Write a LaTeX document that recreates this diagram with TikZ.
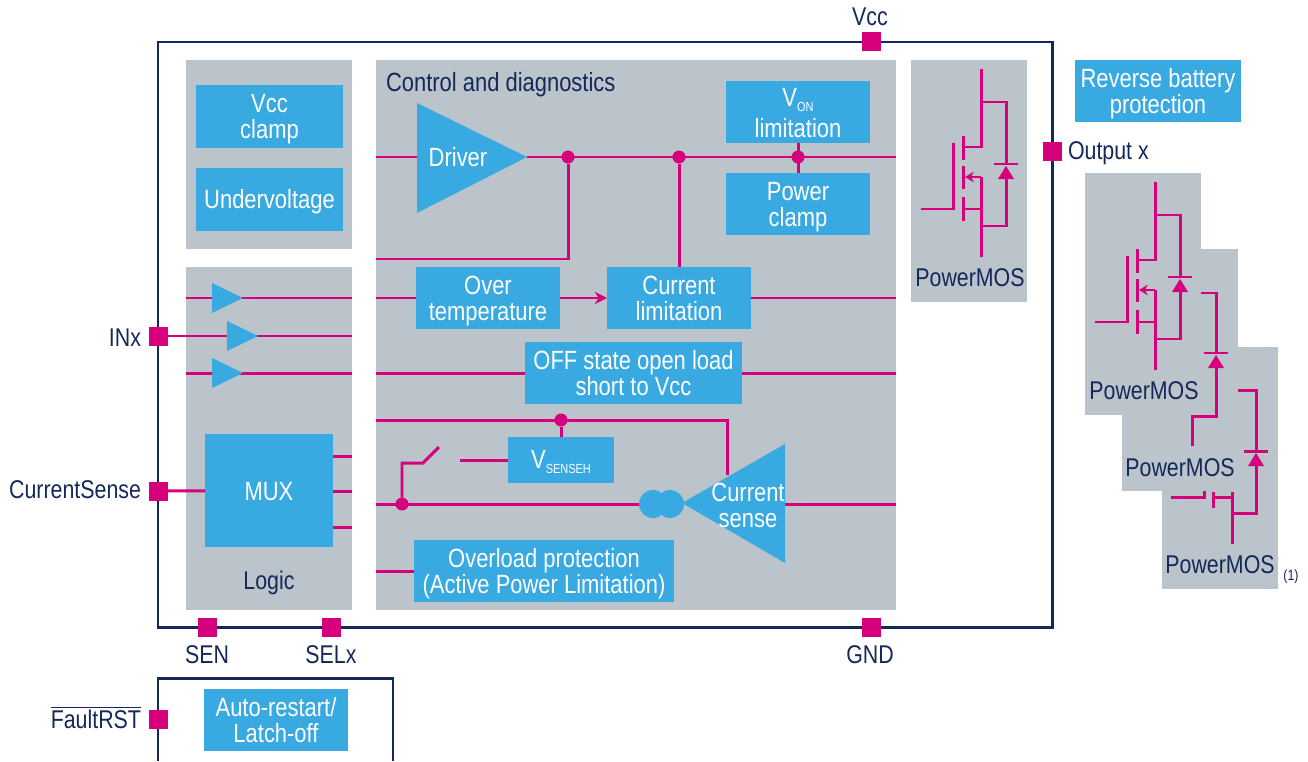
\documentclass[tikz,border=0pt]{standalone}
\usepackage{fontspec}
\setmainfont{Liberation Sans}[FakeStretch=0.833]
\usepackage{xcolor}
\usetikzlibrary{arrows.meta,positioning}

\definecolor{panelgray}{HTML}{BAC4CA}
\definecolor{blockblue}{HTML}{38A9E1}
\definecolor{wirepink}{HTML}{D6007D}
\definecolor{framenavy}{HTML}{14285A}
\def\px{0.02cm}
\newcommand{\lowtxt}[1]{\raisebox{-3pt}{\fontsize{7.5}{8}\selectfont #1}}

\begin{document}
\begin{tikzpicture}[
  x=0.02cm,y=-0.02cm,
  every node/.style={inner sep=0pt,outer sep=0pt,align=center,font=\fontsize{15}{14.8}\selectfont},
  txt/.style={execute at begin node={\rule{0pt}{13pt}},execute at end node={\rule[-2pt]{0pt}{2pt}}},
  two/.style={execute at begin node={\rule{0pt}{#1pt}},execute at end node={\rule[-3.2pt]{0pt}{3.2pt}}},
  two/.default=28.6,
  panel/.style 2 args={fill=panelgray,minimum width=#1*\px,minimum height=#2*\px},
  blk/.style 2 args={txt,fill=blockblue,text=white,minimum width=#1*\px,minimum height=#2*\px},
  pad/.style={fill=wirepink,minimum size=19*\px},
  dot/.style={circle,fill=wirepink,minimum size=13*\px},
  lbl/.style={txt,text=framenavy,font=\fontsize{14.6}{14.8}\selectfont},
  wire/.style={draw=wirepink,line width=1.7pt},
  arr/.style={wire,-{Stealth[length=7pt,width=7pt]}},
  frm/.style={draw=framenavy,line width=1.7pt},
  tri/.style={fill=blockblue},
  diode/.pic={
    \draw[wire] (-12,0) -- (12,0);
    \fill[wirepink] (-8,15) -- (8,15) -- (0,2) -- cycle;
  },
  mosfet/.pic={
    \draw[wire] (70,9) -- (70,87) -- (53,87);
    \draw[wire] (70,42) -- (95,42) -- (95,104);
    \draw[wire] (95,119) -- (95,166) -- (70,166);
    \draw[wire] (70,197) -- (70,117);
    \draw[wire,-{Stealth[length=5pt,width=6pt]}] (70,117) -- (54,117);
    \draw[wire] (53,149) -- (70,149);
    \draw[wire] (52,76) -- (52,100);
    \draw[wire] (52,106) -- (52,129);
    \draw[wire] (52,137) -- (52,161);
    \draw[wire] (42,83) -- (42,149) -- (10,149);
    \pic at (95,104) {diode};
  }
]
\useasboundingbox (0,0) rectangle (1308,761);

% panels
\node[panel={166}{189}] (clamps) at (269,154.5) {};
\node[panel={166}{343}] (logic) at (269,438.5) {};
\node[panel={520}{550}] (ctrl) at (636,335) {};
\node[panel={116}{242}] (pmos) at (969,181) {};
\node[panel={116}{242}] (pmosa) at (1143,294) {};
\node[panel={116}{242}] (pmosb) at (1180,370) {};
\node[panel={116}{242}] (pmosc) at (1220,468) {};

% frames
\draw[frm] (158,42) rectangle (1052,627);
\draw[frm] (158,761) -- (158,678) -- (393,678) -- (393,761);

% blocks
\node[blk={147}{63},two] (vccclamp) at (269.5,116.5) {Vcc\\clamp};
\node[blk={147}{63}] (uvlo) at (269.5,199.5) {Undervoltage};
\node[blk={144}{62},two=32] (von) at (798,112) {V\lowtxt{ON}\\[2.8pt]limitation};
\node[blk={144}{62},two] (pclamp) at (798,204) {Power\\clamp};
\node[blk={166}{62},two] (revbat) at (1158,91) {Reverse battery\\protection};
\node[blk={144}{62},two] (otemp) at (488,298) {Over\\temperature};
\node[blk={144}{62},two] (climit) at (679,298) {Current\\limitation};
\node[blk={217}{62},two] (offstate) at (633.5,373) {OFF state open load\\short to Vcc};
\node[blk={106}{46}] (vsense) at (561,460) {V\lowtxt{SENSEH}};
\node[blk={260}{62},two] (overload) at (544,571) {Overload protection\\(Active Power Limitation)};
\node[blk={128}{113}] (mux) at (269,490.5) {MUX};
\node[blk={144}{62},two] (autors) at (276,720) {Auto-restart/\\Latch-off};

% pads
\node[pad] (vcc) at (871,41) {};
\node[pad] (outx) at (1052,151) {};
\node[pad] (inx) at (158,336) {};
\node[pad] (csense) at (158,491) {};
\node[pad] (sen) at (207,627) {};
\node[pad] (selx) at (331,627) {};
\node[pad] (gnd) at (871,627) {};
\node[pad] (fault) at (158,719) {};

\node[lbl] (vcclbl) at (870,16) {Vcc};
\node[lbl,anchor=west] (outlbl) at (1068,151) {Output x};
\node[lbl,anchor=east] (inlbl) at (141,337) {INx};
\node[lbl,anchor=east] (cslbl) at (141,489) {CurrentSense};
\node[lbl] (senlbl) at (207,654) {SEN};
\node[lbl] (sellbl) at (331,654) {SELx};
\node[lbl] (gndlbl) at (870,654) {GND};
\node[lbl,anchor=east] (faultlbl) at (141,719) {$\overline{\mbox{FaultRST}}$};

% junctions and free wire ends
\coordinate (logicw) at (186,298);
\coordinate (logice) at (352,298);
\coordinate (logicy) at (186,373);
\coordinate (logicz) at (352,373);
\coordinate (logicm) at (352,336);
\coordinate (ctrlw) at (376,298);
\coordinate (ctrle) at (896,298);
\coordinate (offw) at (376,373);
\coordinate (offe) at (896,373);
\coordinate (drvin) at (376,157);
\coordinate (drvw) at (417,157);
\coordinate (drve) at (527,157);
\coordinate (drvout) at (896,157);
\coordinate (otfb) at (376,259);
\coordinate (senstop) at (376,420);
\coordinate (sensin) at (727,475);
\coordinate (swa) at (423,463);
\coordinate (swb) at (439,447);
\coordinate (swc) at (460,460);
\coordinate (busw) at (376,504);
\coordinate (buse) at (896,504);
\coordinate (blob) at (653,504);
\coordinate (csout) at (785,504);
\coordinate (olw) at (376,571);
\coordinate (muxa) at (333,456);
\coordinate (muxb) at (333,491);
\coordinate (muxc) at (333,527);
\coordinate (muxae) at (352,456);
\coordinate (muxbe) at (352,491);
\coordinate (muxce) at (352,527);
\node[dot] (ja) at (568,157) {};
\node[dot] (jb) at (679,157) {};
\node[dot] (jc) at (798,157) {};
\node[dot] (jd) at (561,420) {};
\node[dot] (je) at (402,504) {};

% wires
\draw[wire] (logicw) -- (logice);
\draw[wire] (inx) -- (logicm);
\draw[wire] (logicy) -- (logicz);
\draw[wire] (ctrlw) -- (otemp);
\draw[arr] (otemp) -- (climit);
\draw[wire] (climit) -- (ctrle);
\draw[wire] (offw) -- (offstate);
\draw[wire] (offstate) -- (offe);
\draw[wire] (drvin) -- (drvw);
\draw[wire] (drve) -- (drvout);
\draw[wire] (ja) |- (otfb);
\draw[wire] (jb) -- (climit);
\draw[wire] (von) -- (pclamp);
\draw[wire] (senstop) -| (sensin);
\draw[wire] (jd) -- (vsense);
\draw[wire] (je) |- (swa) -- (swb);
\draw[wire] (swc) -- (vsense);
\draw[wire] (busw) -- (blob);
\draw[wire] (csout) -- (buse);
\draw[wire] (olw) -- (overload);
\draw[wire] (csense) -- (mux);
\draw[wire] (muxa) -- (muxae);
\draw[wire] (muxb) -- (muxbe);
\draw[wire] (muxc) -- (muxce);

% amplifiers
\fill[tri] (417,103) -- (527,157) -- (417,213) -- cycle;
\fill[tri] (682,503) -- (785,444) -- (785,563) -- cycle;
\fill[tri] (blob) circle (14);
\fill[tri] (670,504) circle (14);
\foreach \xa/\ya in {212/298,227/336,212/373}
  \fill[tri] (\xa,\ya-15) -- (\xa+31,\ya) -- (\xa,\ya+15) -- cycle;
\node[txt,text=white] (drvlbl) at (458,157) {Driver};
\node[txt,two,text=white] (cslabel) at (748,505) {Current\\sense};

% text on panels
\node[lbl,anchor=west,font=\fontsize{15}{15}\selectfont] (ctrllbl) at (386,83) {Control and diagnostics};
\node[lbl] (logiclbl) at (269,581) {Logic};

% power stages
\pic at (911,60) {mosfet};
\pic at (1085,173) {mosfet};
\node[lbl] (pmoslbl) at (970,277) {PowerMOS};
\node[lbl] (pmosalbl) at (1144,390) {PowerMOS};
\node[lbl] (pmosblbl) at (1180,467) {PowerMOS};
\node[lbl] (pmosclbl) at (1220,564) {PowerMOS};

\pic at (1216,353) {diode};
\draw[wire] (1201,293) -- (1216,293) -- (1216,353);
\draw[wire] (1216,368) -- (1216,416) -- (1192,416) -- (1192,446);

\pic at (1256,451) {diode};
\draw[wire] (1238,390) -- (1256,390) -- (1256,451);
\draw[wire] (1256,466) -- (1256,513) -- (1232,513);
\draw[wire] (1232,492) -- (1232,544);
\draw[wire] (1213,492) -- (1213,508);
\draw[wire] (1171,497) -- (1204,497) -- (1204,491);
\draw[wire] (1213,497) -- (1232,497);
\node[text=framenavy,font=\fontsize{8.5}{9}\selectfont] (note) at (1291,577) {(1)};

\end{tikzpicture}
\end{document}
